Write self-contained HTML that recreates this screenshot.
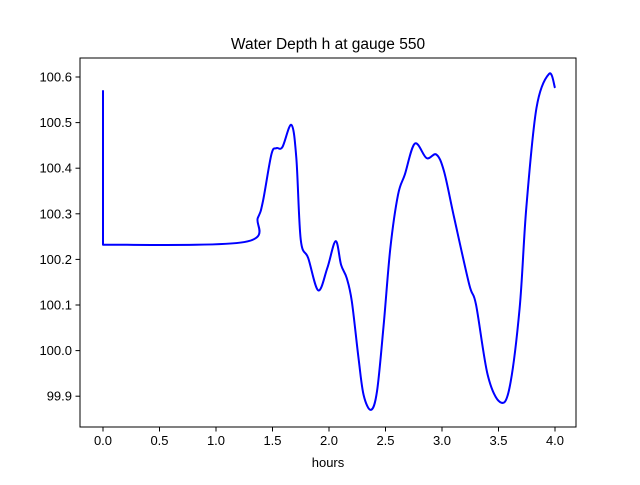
<!DOCTYPE html>
<html><head><meta charset="utf-8"><style>
body{margin:0;background:#fff}
text{font-family:"Liberation Sans","DejaVu Sans",sans-serif;fill:#000}
</style></head><body>
<svg id="chart" width="640" height="480" xmlns="http://www.w3.org/2000/svg">
<rect width="640" height="480" fill="#fff"/>
<text x="328" y="49" font-size="15.5" text-anchor="middle">Water Depth h at gauge 550</text>
<text x="328" y="467" font-size="13" text-anchor="middle">hours</text>
<g id="ticks"></g>
<path id="series" fill="none" stroke="#0000ff" stroke-width="2" stroke-linejoin="round"/>
<rect x="80" y="58" width="496" height="369" fill="none" stroke="#000" stroke-width="1"/>
</svg>
<script>
const hours=[0,0,1.25,1.37,1.415,1.49,1.534,1.587,1.667,1.711,1.75,1.816,1.905,1.985,2.059,2.107,2.157,2.202,2.261,2.306,2.371,2.425,2.484,2.543,2.611,2.671,2.76,2.864,2.95,3.018,3.108,3.241,3.301,3.404,3.514,3.597,3.687,3.746,3.836,3.948,4.0];
const depth=[100.571,100.232,100.238,100.291,100.327,100.43,100.444,100.446,100.495,100.422,100.243,100.203,100.132,100.181,100.24,100.188,100.159,100.108,99.984,99.903,99.87,99.911,100.057,100.225,100.342,100.386,100.454,100.422,100.43,100.393,100.291,100.145,100.101,99.947,99.887,99.918,100.093,100.313,100.532,100.607,100.576];
const xTicks=[0,0.5,1,1.5,2,2.5,3,3.5,4];
const yTicks=[99.9,100.0,100.1,100.2,100.3,100.4,100.5,100.6];
function sx(t){return 103+t*113;}
function sy(v){return 77+(100.6-v)*456;}
const NS="http://www.w3.org/2000/svg";
const g=document.getElementById('ticks');
xTicks.forEach(t=>{
  const l=document.createElementNS(NS,'line');
  
  
  l.setAttribute('x1',sx(t));l.setAttribute('x2',sx(t));l.setAttribute('y1',427);l.setAttribute('y2',431.5);l.setAttribute('stroke','#000');
  g.appendChild(l);
  const tx=document.createElementNS(NS,'text');
  
  
  tx.setAttribute('x',sx(t));tx.setAttribute('y',445);tx.setAttribute('font-size','13');tx.setAttribute('text-anchor','middle');
  tx.textContent=t.toFixed(1);g.appendChild(tx);
});
yTicks.forEach(v=>{
  const l=document.createElementNS(NS,'line');
  
  
  l.setAttribute('x1',75.5);l.setAttribute('x2',80);l.setAttribute('y1',sy(v));l.setAttribute('y2',sy(v));l.setAttribute('stroke','#000');
  g.appendChild(l);
  const tx=document.createElementNS(NS,'text');
  
  
  tx.setAttribute('x',72);tx.setAttribute('y',sy(v)+4.5);tx.setAttribute('font-size','13');tx.setAttribute('text-anchor','end');
  tx.textContent=v.toFixed(1);g.appendChild(tx);
});
const P=hours.map((t,i)=>[sx(t),sy(depth[i])]);
let d='M'+P[0][0]+','+P[0][1]+' L'+P[1][0]+','+P[1][1];
for(let i=1;i<P.length-1;i++){
  const p0=P[Math.max(1,i-1)],p1=P[i],p2=P[i+1],p3=P[Math.min(P.length-1,i+2)];
  const c1=[p1[0]+(p2[0]-p0[0])/6,p1[1]+(p2[1]-p0[1])/6];
  const c2=[p2[0]-(p3[0]-p1[0])/6,p2[1]-(p3[1]-p1[1])/6];
  d+=' C'+c1[0]+','+c1[1]+' '+c2[0]+','+c2[1]+' '+p2[0]+','+p2[1];
}
document.getElementById('series').setAttribute('d',d);
</script>
</body></html>
